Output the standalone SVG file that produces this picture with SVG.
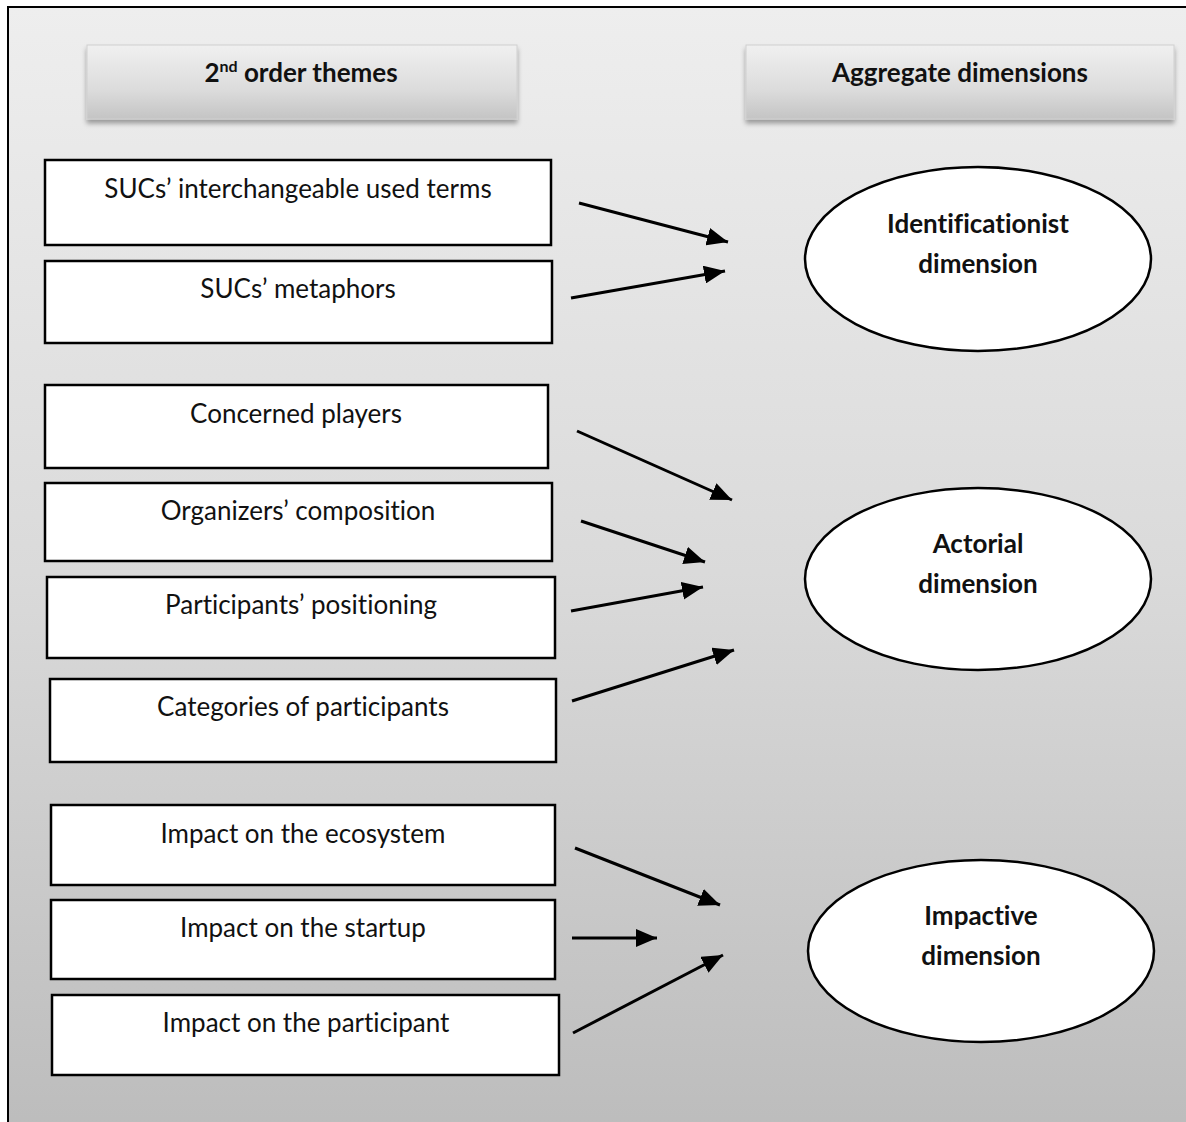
<svg xmlns="http://www.w3.org/2000/svg" width="1186" height="1122" viewBox="0 0 1186 1122">
<defs>
<linearGradient id="bg" x1="0" y1="0" x2="0" y2="1">
<stop offset="0" stop-color="#eeeeee"/>
<stop offset="0.5" stop-color="#dadada"/>
<stop offset="1" stop-color="#bcbcbc"/>
</linearGradient>
<linearGradient id="hdr" x1="0" y1="0" x2="0" y2="1">
<stop offset="0" stop-color="#f0f0f0"/>
<stop offset="0.6" stop-color="#dcdcdc"/>
<stop offset="1" stop-color="#c4c4c4"/>
</linearGradient>
<filter id="sh" x="-5%" y="-20%" width="110%" height="150%">
<feGaussianBlur in="SourceAlpha" stdDeviation="2.5"/>
<feOffset dx="0" dy="4" result="b"/>
<feComponentTransfer><feFuncA type="linear" slope="0.35"/></feComponentTransfer>
<feMerge><feMergeNode/><feMergeNode in="SourceGraphic"/></feMerge>
</filter>
<marker id="ah" markerWidth="7" markerHeight="6" refX="7" refY="3" orient="auto" markerUnits="strokeWidth">
<path d="M0,0 L7,3 L0,6 Z" fill="#000"/>
</marker>
</defs>
<style>
.box{fill:#fff;stroke:#000;stroke-width:2.5}
.ell{fill:#fff;stroke:#000;stroke-width:2.5}
.hbox{fill:url(#hdr);stroke:#d0d0d0;stroke-width:1}
.t{font-family:Lato,"Open Sans","Liberation Sans",sans-serif;font-size:26px;fill:#111;text-anchor:middle;font-variant-ligatures:none}
.b{font-family:Lato,"Open Sans","Liberation Sans",sans-serif;font-size:26px;font-weight:bold;fill:#111;text-anchor:middle;font-variant-ligatures:none}
.arr{stroke:#000;stroke-width:3;fill:none;marker-end:url(#ah)}
</style>
<rect x="0" y="0" width="1186" height="1122" fill="#ffffff"/>
<rect x="8" y="7" width="1190" height="1130" fill="url(#bg)" stroke="#000" stroke-width="2"/>

<g id="header-themes">
<rect class="hbox" x="87" y="45" width="430" height="74" filter="url(#sh)"/>
<text class="b" x="301" y="82">2<tspan font-size="16" dy="-10">nd</tspan><tspan dy="10"> order themes</tspan></text>
</g>
<g id="header-dimensions">
<rect class="hbox" x="746" y="45" width="428" height="74" filter="url(#sh)"/>
<text class="b" x="960" y="82">Aggregate dimensions</text>
</g>

<g id="n1"><rect class="box" x="45" y="160" width="506" height="85"/><text class="t" x="298" y="198">SUCs’ interchangeable used terms</text></g>
<g id="n2"><rect class="box" x="45" y="261" width="507" height="82"/><text class="t" x="298" y="298">SUCs’ metaphors</text></g>
<g id="n3"><rect class="box" x="45" y="385" width="503" height="83"/><text class="t" x="296" y="423">Concerned players</text></g>
<g id="n4"><rect class="box" x="45" y="483" width="507" height="78"/><text class="t" x="298" y="520">Organizers’ composition</text></g>
<g id="n5"><rect class="box" x="47" y="577" width="508" height="81"/><text class="t" x="301" y="614">Participants’ positioning</text></g>
<g id="n6"><rect class="box" x="50" y="679" width="506" height="83"/><text class="t" x="303" y="716">Categories of participants</text></g>
<g id="n7"><rect class="box" x="51" y="805" width="504" height="80"/><text class="t" x="303" y="843">Impact on the ecosystem</text></g>
<g id="n8"><rect class="box" x="51" y="900" width="504" height="79"/><text class="t" x="303" y="937">Impact on the startup</text></g>
<g id="n9"><rect class="box" x="52" y="995" width="507" height="80"/><text class="t" x="306" y="1032">Impact on the participant</text></g>

<g id="d1"><ellipse class="ell" cx="978" cy="259" rx="173" ry="92"/><text class="b" x="978" y="233">Identificationist</text><text class="b" x="978" y="273">dimension</text></g>
<g id="d2"><ellipse class="ell" cx="978" cy="579" rx="173" ry="91"/><text class="b" x="978" y="553">Actorial</text><text class="b" x="978" y="593">dimension</text></g>
<g id="d3"><ellipse class="ell" cx="981" cy="951" rx="173" ry="91"/><text class="b" x="981" y="925">Impactive</text><text class="b" x="981" y="965">dimension</text></g>

<g id="connectors">
<line class="arr" x1="579" y1="203" x2="728" y2="242"/>
<line class="arr" x1="571" y1="298" x2="725" y2="271"/>
<line class="arr" x1="577" y1="431" x2="732" y2="500"/>
<line class="arr" x1="581" y1="521" x2="705" y2="562"/>
<line class="arr" x1="571" y1="611" x2="703" y2="587"/>
<line class="arr" x1="572" y1="701" x2="734" y2="650"/>
<line class="arr" x1="575" y1="848" x2="720" y2="905"/>
<line class="arr" x1="572" y1="938" x2="657" y2="938"/>
<line class="arr" x1="573" y1="1033" x2="723" y2="955"/>
</g>
</svg>
